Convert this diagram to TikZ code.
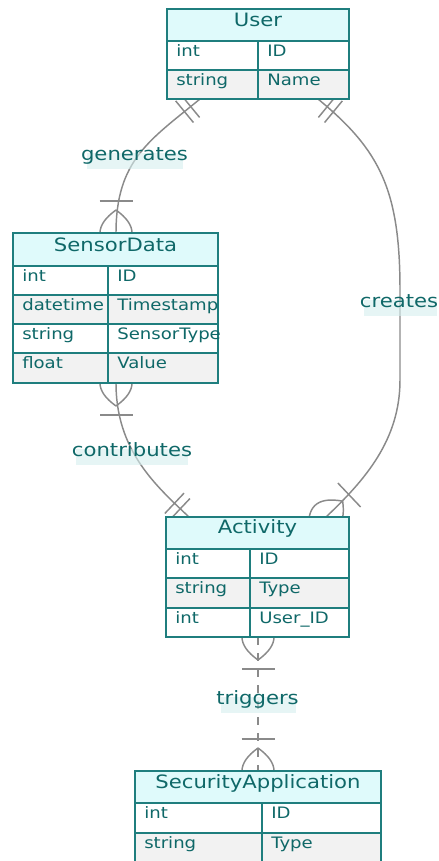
\documentclass[tikz,border=0pt]{standalone}
\usepackage{fontspec}
\setmainfont{DejaVu Sans}
\usetikzlibrary{calc}

\definecolor{erborder}{HTML}{1F7E7E}
\definecolor{ertext}{HTML}{0F6868}
\definecolor{erhead}{HTML}{DFFAFB}
\definecolor{errow}{HTML}{F2F2F2}
\definecolor{erline}{HTML}{8A8A8A}
\definecolor{erlabel}{HTML}{D6EFEF}

% horizontally widened text
\newcommand\hs[1]{\scalebox{1.15}[1]{#1}}

\tikzset{
  conn/.style={draw=erline, line width=1.1pt},
  ent/.style={draw=erborder, line width=1.3pt},
  headtxt/.style={text=ertext, font=\fontsize{13.8}{16}\selectfont, anchor=base, inner sep=0pt},
  attrtxt/.style={text=ertext, font=\fontsize{11.8}{14}\selectfont, anchor=base west, inner sep=0pt},
  lbltxt/.style={text=ertext, font=\fontsize{13.8}{16}\selectfont, anchor=base, inner sep=0pt},
  lblbg/.style={fill=erlabel, fill opacity=0.6},
}

% crow's foot (one or more): #1 end point, #2 outward direction
\newcommand\manymark[2]{%
  \begin{scope}[shift={(#1)}, rotate=#2]
    \draw[conn] (23,0) .. controls (7.67,21.33) and (-7.67,21.33) .. (-23,0)
                .. controls (-7.67,-21.33) and (7.67,-21.33) .. (23,0);
    \draw[conn] (32,-16.5) -- (32,16.5);
  \end{scope}}
% double bar (exactly one): #1 end point, #2 outward direction
\newcommand\onemark[2]{%
  \begin{scope}[shift={(#1)}, rotate=#2]
    \draw[conn] (12,-14) -- (12,14) (20,-14) -- (20,14);
  \end{scope}}

\begin{document}
\begin{tikzpicture}[x=0.75pt, y=-0.75pt]
\useasboundingbox (0,0) rectangle (439,861);
\clip (0,0) rectangle (439,861);

% connection points on the entity edges
\coordinate (ug) at (200,99);
\coordinate (uc) at (318,99);
\coordinate (sg) at (116,233);
\coordinate (sc) at (116,383);
\coordinate (acn) at (189,517);
\coordinate (acr) at (326,517);
\coordinate (atr) at (258,637);
\coordinate (str) at (258,771);

% ---------- relationships ----------
% User generates SensorData
\draw[conn] (ug) .. controls (150,140) and (116,160) .. (sg);
\onemark{ug}{219.4}
\manymark{sg}{90}
% SensorData contributes Activity
\draw[conn] (sc) .. controls (116,450) and (155,485) .. (acn);
\manymark{sc}{-90}
\onemark{acn}{136.7}
% User creates Activity
\draw[conn] (uc) .. controls (380,150) and (400,190) .. (400,290) -- (400,380)
            .. controls (400,440) and (365,480) .. (acr);
\onemark{uc}{-39.4}
\manymark{acr}{43.5}
% Activity triggers SecurityApplication
\draw[conn, dash pattern=on 6pt off 6pt] (atr) -- (str);
\manymark{atr}{-90}
\manymark{str}{90}

% ---------- User ----------
\fill[erhead] (167,9) rectangle (349,41);
\fill[white] (167,41) rectangle (349,70);
\fill[errow] (167,70) rectangle (349,99);
\draw[ent] (167,9) rectangle (349,99);
\draw[ent] (167,41) -- (349,41) (167,70) -- (349,70) (258,41) -- (258,99);
\node[headtxt] (user) at (258,26) {\hs{User}};
\node[attrtxt] (user-a1t) at (176,56) {\hs{int}};
\node[attrtxt] (user-a1n) at (267,56) {\hs{ID}};
\node[attrtxt] (user-a2t) at (176,85) {\hs{string}};
\node[attrtxt] (user-a2n) at (267,85) {\hs{Name}};

% ---------- SensorData ----------
\fill[erhead] (13,233) rectangle (218,266);
\fill[white] (13,266) rectangle (218,295);
\fill[errow] (13,295) rectangle (218,324);
\fill[white] (13,324) rectangle (218,353);
\fill[errow] (13,353) rectangle (218,383);
\draw[ent] (13,233) rectangle (218,383);
\draw[ent] (13,266) -- (218,266) (13,295) -- (218,295) (13,324) -- (218,324)
           (13,353) -- (218,353) (108,266) -- (108,383);
\node[headtxt] (sensor) at (115.5,251) {\hs{SensorData}};
\node[attrtxt] (sensor-a1t) at (22,281) {\hs{int}};
\node[attrtxt] (sensor-a1n) at (117,281) {\hs{ID}};
\node[attrtxt] (sensor-a2t) at (22,310) {\hs{datetime}};
\node[attrtxt] (sensor-a2n) at (117,310) {\hs{Timestamp}};
\node[attrtxt] (sensor-a3t) at (22,339) {\hs{string}};
\node[attrtxt] (sensor-a3n) at (117,339) {\hs{SensorType}};
\node[attrtxt] (sensor-a4t) at (22,368) {\hs{float}};
\node[attrtxt] (sensor-a4n) at (117,368) {\hs{Value}};

% ---------- Activity ----------
\fill[erhead] (166,517) rectangle (349,549);
\fill[white] (166,549) rectangle (349,578);
\fill[errow] (166,578) rectangle (349,608);
\fill[white] (166,608) rectangle (349,637);
\draw[ent] (166,517) rectangle (349,637);
\draw[ent] (166,549) -- (349,549) (166,578) -- (349,578) (166,608) -- (349,608)
           (250,549) -- (250,637);
\node[headtxt] (activity) at (257.5,533) {\hs{Activity}};
\node[attrtxt] (act-a1t) at (175,564) {\hs{int}};
\node[attrtxt] (act-a1n) at (259,564) {\hs{ID}};
\node[attrtxt] (act-a2t) at (175,593) {\hs{string}};
\node[attrtxt] (act-a2n) at (259,593) {\hs{Type}};
\node[attrtxt] (act-a3t) at (175,623) {\hs{int}};
\node[attrtxt] (act-a3n) at (259,623) {\hs{User\_ID}};

% ---------- SecurityApplication ----------
\fill[erhead] (135,771) rectangle (381,803);
\fill[white] (135,803) rectangle (381,833);
\fill[errow] (135,833) rectangle (381,866);
\draw[ent] (135,866) -- (135,771) -- (381,771) -- (381,866);
\draw[ent] (135,803) -- (381,803) (135,833) -- (381,833) (262,803) -- (262,866);
\node[headtxt] (secapp) at (258,788) {\hs{SecurityApplication}};
\node[attrtxt] (sec-a1t) at (144,818) {\hs{int}};
\node[attrtxt] (sec-a1n) at (271,818) {\hs{ID}};
\node[attrtxt] (sec-a2t) at (144,848) {\hs{string}};
\node[attrtxt] (sec-a2n) at (271,848) {\hs{Type}};

% ---------- relationship labels ----------
\fill[lblbg] (87,153) rectangle (183,169);
\node[lbltxt] (lbl-gen) at (134.5,160) {\hs{generates}};
\fill[lblbg] (76,449) rectangle (188,465);
\node[lbltxt] (lbl-con) at (132,456) {\hs{contributes}};
\fill[lblbg] (364,300) rectangle (437,316);
\node[lbltxt] (lbl-cre) at (399,307) {\hs{creates}};
\fill[lblbg] (221,697) rectangle (296,713);
\node[lbltxt] (lbl-tri) at (257.5,704) {\hs{triggers}};
\end{tikzpicture}
\end{document}
